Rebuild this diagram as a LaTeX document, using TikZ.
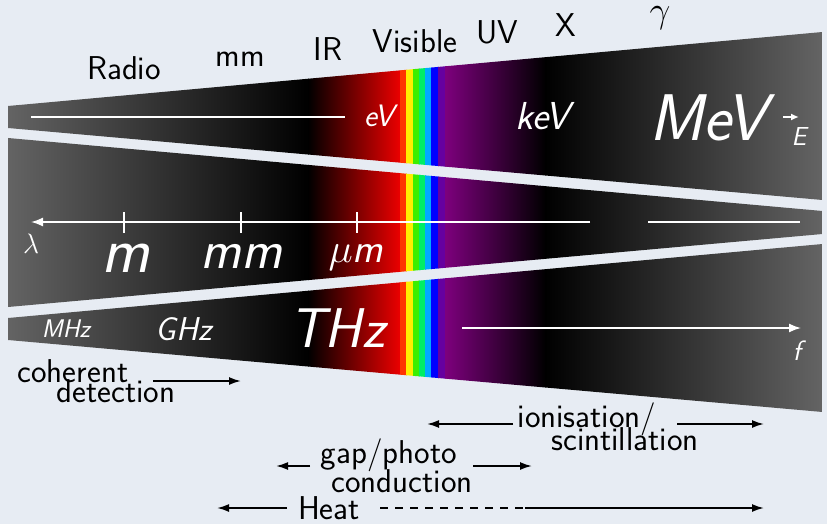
\documentclass[tikz,border=0pt]{standalone}
\usepackage{fix-cm}
\usepackage{fontspec}
\usetikzlibrary{arrows.meta}
\definecolor{bg}{RGB}{231,236,243}
\definecolor{gedge}{RGB}{100,100,100}
\definecolor{redA}{RGB}{236,0,0}
\definecolor{sOr}{RGB}{255,51,0}
\definecolor{sYe}{RGB}{255,238,0}
\definecolor{sGr}{RGB}{60,238,0}
\definecolor{sSg}{RGB}{0,238,100}
\definecolor{sSk}{RGB}{0,170,255}
\definecolor{sBl}{RGB}{0,0,255}
\definecolor{sIn}{RGB}{102,0,160}
\definecolor{sPu}{RGB}{125,0,125}
\newcommand\fsz[1]{\fontsize{#1}{#1}\selectfont}
\begin{document}
\begin{tikzpicture}[x=1pt,y=-1pt,
  lbl/.style={font=\sffamily\fsz{33}, text=black, anchor=base, inner sep=0pt},
  wl/.style={text=white, anchor=base, inner sep=0pt},
  wline/.style={draw=white, line width=2pt},
  wthin/.style={draw=white, line width=1.6pt},
  warrow/.style={wthin, -{Latex[length=12pt,width=9pt]}},
  barrow/.style={draw=black, line width=1.8pt, -{Latex[length=12pt,width=8pt]}},
  bline/.style={draw=black, line width=1.8pt}]
\fill[bg] (0,0) rectangle (827,524);
\useasboundingbox (0,0) rectangle (827,524);
% bands
\begin{scope}
\clip (8,106) -- (822.5,32) -- (822.5,200) -- (8,128) -- cycle
      (8,138) -- (822.5,211) -- (822.5,234) -- (8,307) -- cycle
      (8,318) -- (822.5,244) -- (822.5,412) -- (8,340) -- cycle;
\shade[left color=gedge, right color=black] (7,0) rectangle (308.5,524);
\shade[left color=black, right color=redA] (308,0) rectangle (400.5,524);
\fill[sOr] (400,0) rectangle (406.5,524);
\fill[sYe] (406,0) rectangle (413.5,524);
\fill[sGr] (413,0) rectangle (419.5,524);
\fill[sSg] (419,0) rectangle (425.5,524);
\fill[sSk] (425,0) rectangle (431.5,524);
\fill[sBl] (431,0) rectangle (438.5,524);
\fill[sIn] (438,0) rectangle (445.5,524);
\shade[left color=sPu, right color=black] (445,0) rectangle (545.5,524);
\shade[left color=black, right color=gedge] (545,0) rectangle (823,524);
\end{scope}
% top labels
\node[lbl] (radio) at (124,80) {Radio};
\node[lbl] (mmtop) at (240,67) {mm};
\node[lbl] (ir) at (328,61) {IR};
\node[lbl] (vis) at (415,53) {Visible};
\node[lbl] (uv) at (497,44) {UV};
\node[lbl] (xr) at (566,37) {X};
\node[lbl, font=\fsz{37}] (gam) at (660,23) {$\gamma$};
% energy band
\coordinate (e0) at (31,117);
\coordinate (e1) at (345,117);
\draw[wline] (e0) -- (e1);
\node[wl, font=\sffamily\itshape\fsz{31}] (ev) at (379,127) {eV};
\node[wl, font=\sffamily\itshape\fsz{39}] (kev) at (543,130) {keV};
\node[wl, font=\sffamily\itshape\fsz{66}] (mev) at (708,140) {MeV};
\coordinate (ea) at (783,117);
\coordinate (eb) at (799,117);
\draw[wthin, -{Latex[length=8pt,width=7pt]}] (ea) -- (eb);
\node[wl, font=\sffamily\itshape\fsz{26}] (en) at (799,146) {E};
% wavelength band
\coordinate (l0) at (590,222);
\coordinate (l1) at (31,222);
\draw[warrow] (l0) -- (l1);
\coordinate (l2) at (648,222);
\coordinate (l3) at (800,222);
\draw[wthin] (l2) -- (l3);
\foreach \t/\xx in {t1/124,t2/241,t3/357}{
  \coordinate (\t a) at (\xx,212);
  \coordinate (\t b) at (\xx,233);
  \draw[wthin] (\t a) -- (\t b);
}
\node[wl, font=\fsz{28}] (lam) at (31,253) {$\lambda$};
\node[wl, font=\sffamily\itshape\fsz{65}] (m1) at (126,272) {m};
\node[wl, font=\sffamily\itshape\fsz{55}] (m2) at (241,268) {mm};
\node[wl, font=\sffamily\itshape\fsz{41}] (m3) at (356,262) {$\mu$m};
% frequency band
\node[wl, font=\sffamily\itshape\fsz{25.5}] (mhz) at (66,337) {MHz};
\node[wl, font=\sffamily\itshape\fsz{33}] (ghz) at (184,340) {GHz};
\node[wl, font=\sffamily\itshape\fsz{56}] (thz) at (337,347) {THz};
\coordinate (f0) at (462,328);
\coordinate (f1) at (801,328);
\draw[warrow] (f0) -- (f1);
\node[wl, font=\sffamily\itshape\fsz{28}] (fl) at (797,360) {f};
% detection
\node[lbl] (coh1) at (73,382) {coherent};
\node[lbl] (coh2) at (116,402) {detection};
\coordinate (ca) at (153,381);
\coordinate (cb) at (241,381);
\draw[barrow] (ca) -- (cb);
\node[lbl] (ion1) at (587,427) {ionisation/};
\node[lbl] (ion2) at (625,450) {scintillation};
\coordinate (ia) at (513,424);
\coordinate (ib) at (427,424);
\coordinate (ic) at (677,424);
\coordinate (id) at (764,424);
\draw[barrow] (ia) -- (ib);
\draw[barrow] (ic) -- (id);
\node[lbl] (gap1) at (389,463) {gap/photo};
\node[lbl] (gap2) at (402,492) {conduction};
\coordinate (ga) at (310,466);
\coordinate (gb) at (276,466);
\coordinate (gc) at (473,466);
\coordinate (gd) at (532,466);
\draw[barrow] (ga) -- (gb);
\draw[barrow] (gc) -- (gd);
\node[lbl] (heat) at (329,519) {Heat};
\coordinate (ha) at (287,508);
\coordinate (hb) at (217,508);
\coordinate (hc) at (380,508);
\coordinate (hd) at (525,508);
\coordinate (he) at (764,508);
\draw[barrow] (ha) -- (hb);
\draw[bline, dash pattern=on 8pt off 7pt] (hc) -- (hd);
\draw[barrow] (hd) -- (he);
\end{tikzpicture}
\end{document}
